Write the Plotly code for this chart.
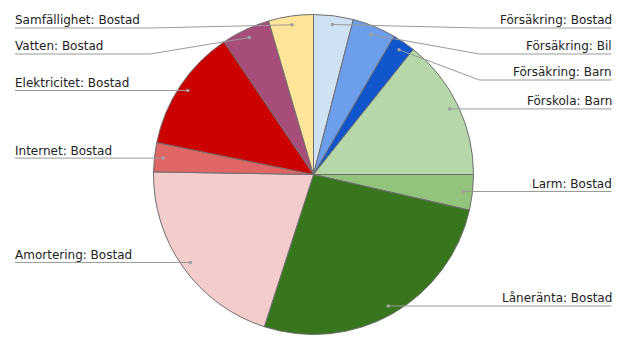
import math
import plotly.graph_objects as go

# ---- data ----
categories = [
    "Försäkring: Bostad", "Försäkring: Bil", "Försäkring: Barn", "Förskola: Barn",
    "Larm: Bostad", "Låneränta: Bostad", "Amortering: Bostad", "Internet: Bostad",
    "Elektricitet: Bostad", "Vatten: Bostad", "Samfällighet: Bostad",
]
values = [1000, 1100, 580, 3570, 895, 6600, 5070, 735, 3090, 1230, 1130]
colors = [
    "#cfe2f3", "#6d9eeb", "#1155cc", "#b6d7a8", "#93c47d", "#38761d",
    "#f4cccc", "#e06666", "#cc0000", "#a64d79", "#ffe599",
]

# ---- layout geometry (pixels) ----
W, H = 624, 352
CX, CY, R = 313.5, 174.5, 160
DOT_R = 0.945 * R
LEFT_X, RIGHT_X = 15, 611.5
LEFT_ELBOW, RIGHT_ELBOW = 150, 479.5
GAP, TOP_MIN = 26, 28
TEXT_PAD = 2

def px(x):
    return x / W

def py(y):
    return 1 - y / H

fig = go.Figure(go.Pie(
    labels=categories, values=values, sort=False, direction="clockwise", rotation=0,
    marker=dict(colors=colors, line=dict(color="#6f6f6f", width=1)),
    textinfo="none", showlegend=False,
    domain=dict(x=[px(CX - R), px(CX + R)], y=[py(CY + R), py(CY - R)]),
))

total = sum(values)
cum = 0
items = []
for lab, v in zip(categories, values):
    mid = (cum + v / 2) / total * 2 * math.pi
    cum += v
    dx = CX + DOT_R * math.sin(mid)
    dy = CY - DOT_R * math.cos(mid)
    side = "right" if mid < math.pi else "left"
    items.append(dict(label=lab, dx=dx, dy=dy, side=side))

shapes = []
annotations = []
for side in ("right", "left"):
    group = sorted([it for it in items if it["side"] == side], key=lambda d: d["dy"])
    prev = None
    for it in group:
        ly = max(it["dy"], TOP_MIN)
        if prev is not None:
            ly = max(ly, prev + GAP)
        prev = ly
        end_x = RIGHT_X if side == "right" else LEFT_X
        elbow = RIGHT_ELBOW if side == "right" else LEFT_ELBOW
        if abs(ly - it["dy"]) < 0.6:
            path = f"M {px(it['dx'])},{py(ly)} L {px(end_x)},{py(ly)}"
        else:
            path = (f"M {px(it['dx'])},{py(it['dy'])} L {px(elbow)},{py(ly)} "
                    f"L {px(end_x)},{py(ly)}")
        shapes.append(dict(type="path", path=path, xref="paper", yref="paper",
                           line=dict(color="#9a9a9a", width=1)))
        shapes.append(dict(type="circle", xref="paper", yref="paper",
                           x0=px(it["dx"] - 1.8), x1=px(it["dx"] + 1.8),
                           y0=py(it["dy"] + 1.8), y1=py(it["dy"] - 1.8),
                           fillcolor="#a0a0a0", line=dict(width=0)))
        tx = end_x + TEXT_PAD if side == "right" else end_x - TEXT_PAD
        annotations.append(dict(
            text=it["label"], x=px(tx), y=py(ly - 7.5), xref="paper", yref="paper",
            xanchor="right" if side == "right" else "left", yanchor="middle",
            showarrow=False, font=dict(family="DejaVu Sans", size=12, color="#222222"),
        ))

fig.update_layout(
    width=W, height=H, margin=dict(l=0, r=0, t=0, b=0),
    paper_bgcolor="white", plot_bgcolor="white",
    shapes=shapes, annotations=annotations,
)
fig.write_html("out.html")
